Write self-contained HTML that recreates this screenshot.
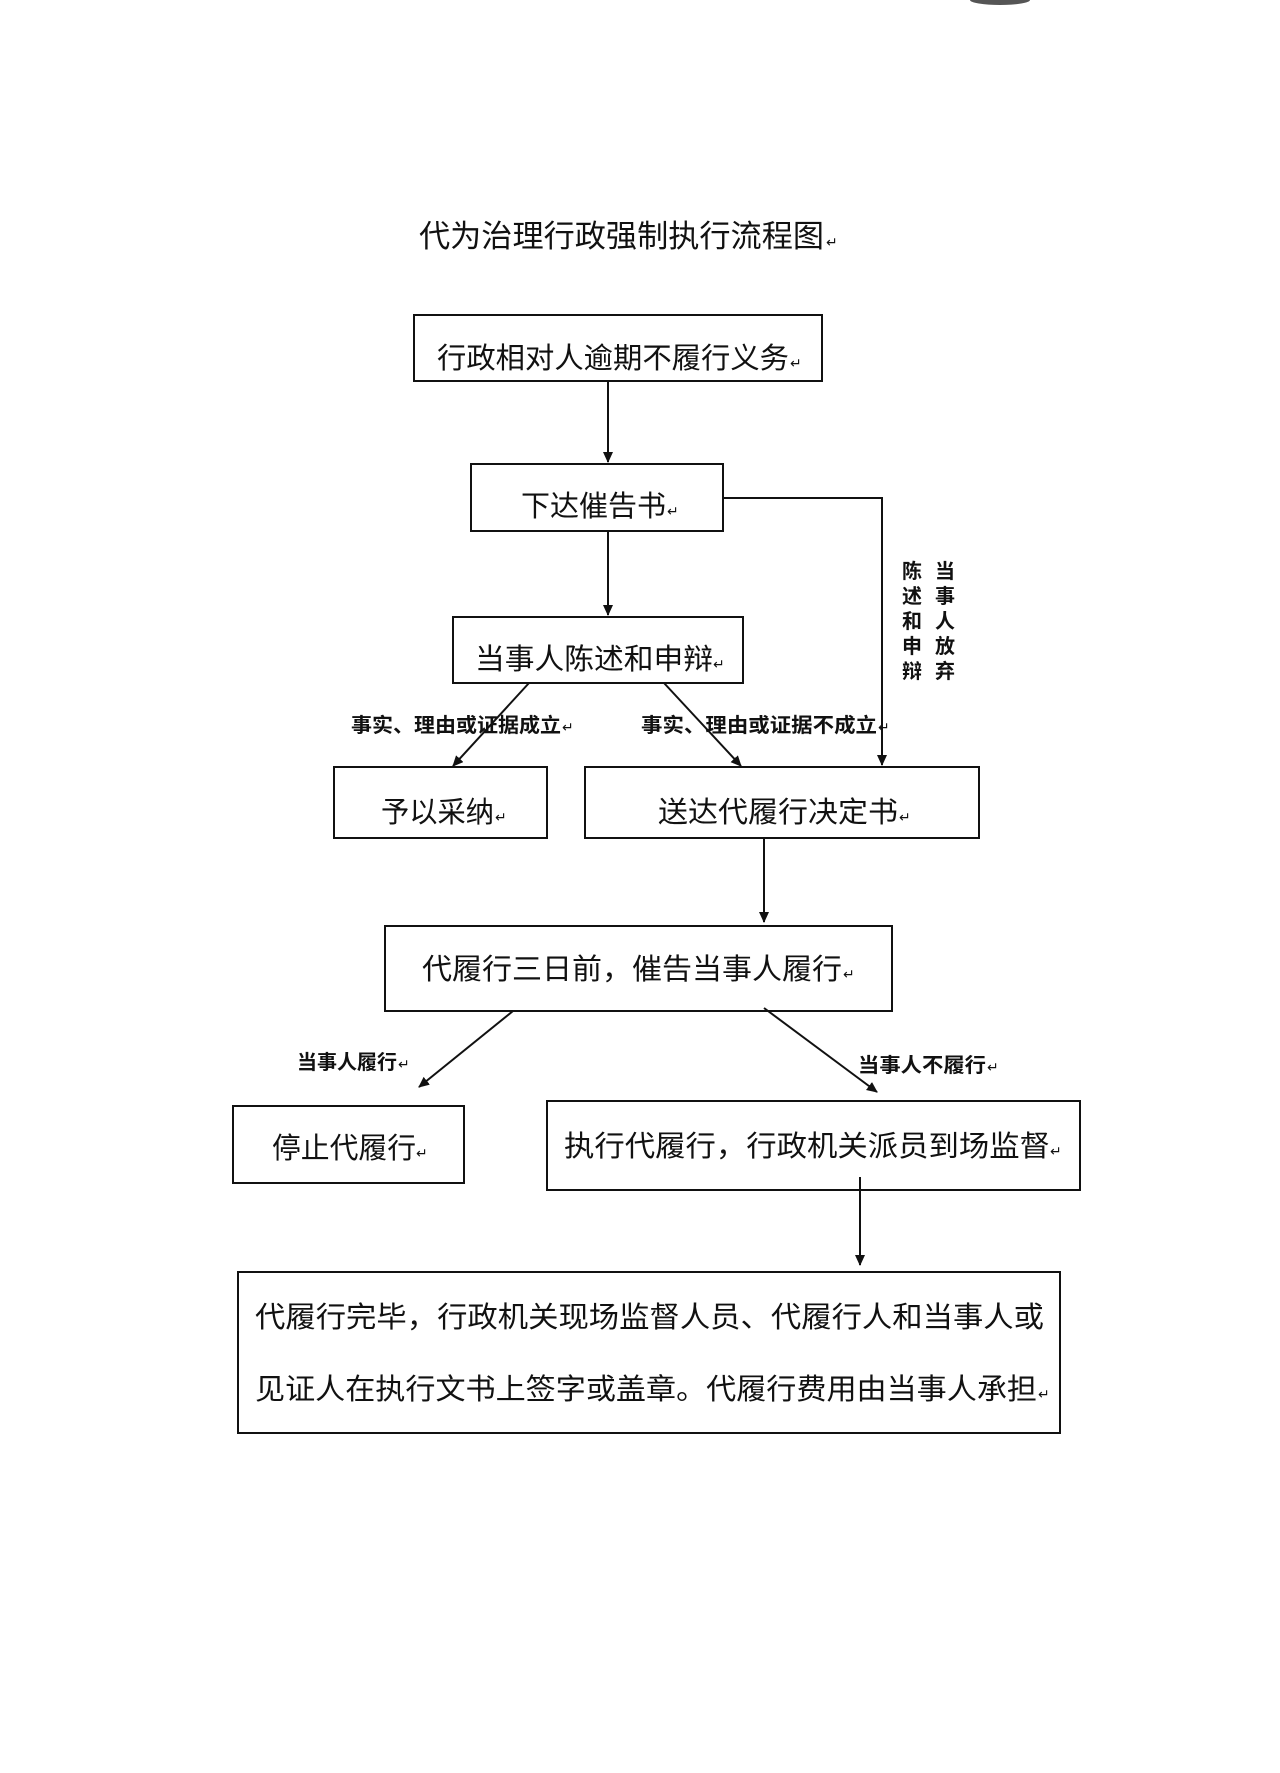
<!DOCTYPE html>
<html><head><meta charset="utf-8"><style>
html,body{margin:0;padding:0;background:#fff;}
svg{display:block;}
text{font-family:"Liberation Sans","Noto Sans CJK SC",sans-serif;fill:#111;}
.b{font-size:29px;}
.s{font-size:20px;font-weight:bold;}
.r{font-size:14px;}
</style></head><body>
<svg width="1280" height="1773" viewBox="0 0 1280 1773" xmlns="http://www.w3.org/2000/svg">
<defs><marker id="a" markerWidth="12" markerHeight="12" refX="10" refY="5" orient="auto" markerUnits="userSpaceOnUse"><path d="M0,0 L11,5 L0,10 Z" fill="#111"/></marker></defs>
<ellipse cx="1000" cy="0" rx="30" ry="5" fill="#555"/>
<g stroke="#111" stroke-width="2" fill="none">
<rect x="414" y="315" width="408" height="66"/>
<rect x="471" y="464" width="252" height="67"/>
<rect x="453" y="617" width="290" height="66"/>
<rect x="334" y="767" width="213" height="71"/>
<rect x="585" y="767" width="394" height="71"/>
<rect x="385" y="926" width="507" height="85"/>
<rect x="233" y="1106" width="231" height="77"/>
<rect x="547" y="1101" width="533" height="89"/>
<rect x="238" y="1272" width="822" height="161"/>
<line x1="608" y1="381" x2="608" y2="462" marker-end="url(#a)"/>
<line x1="608" y1="531" x2="608" y2="615" marker-end="url(#a)"/>
<polyline points="723,498 882,498 882,765" marker-end="url(#a)"/>
<line x1="529" y1="683" x2="453" y2="766" marker-end="url(#a)"/>
<line x1="664" y1="683" x2="741" y2="766" marker-end="url(#a)"/>
<line x1="764" y1="838" x2="764" y2="922" marker-end="url(#a)"/>
<line x1="513" y1="1011" x2="419" y2="1087" marker-end="url(#a)"/>
<line x1="764" y1="1008" x2="877" y2="1092" marker-end="url(#a)"/>
<line x1="860" y1="1177" x2="860" y2="1265" marker-end="url(#a)"/>
</g>
<text x="419" y="247" style="font-size:31px" textLength="405" lengthAdjust="spacingAndGlyphs">代为治理行政强制执行流程图</text><text class="r" x="826" y="247">↵</text>
<text class="b" x="437" y="368" textLength="352" lengthAdjust="spacingAndGlyphs">行政相对人逾期不履行义务</text><text class="r" x="790" y="368">↵</text>
<text class="b" x="521" y="516" textLength="145" lengthAdjust="spacingAndGlyphs">下达催告书</text><text class="r" x="667" y="516">↵</text>
<text class="b" x="475" y="669" textLength="238" lengthAdjust="spacingAndGlyphs">当事人陈述和申辩</text><text class="r" x="713" y="669">↵</text>
<text class="s" x="351" y="732" textLength="210" lengthAdjust="spacingAndGlyphs">事实、理由或证据成立</text><text class="r" x="562" y="732">↵</text>
<text class="s" x="641" y="732" textLength="236" lengthAdjust="spacingAndGlyphs">事实、理由或证据不成立</text><text class="r" x="878" y="732">↵</text>
<g class="s" text-anchor="middle">
<text x="945" y="578">当</text><text x="945" y="603">事</text><text x="945" y="628">人</text><text x="945" y="653">放</text><text x="945" y="678">弃</text>
<text x="912" y="578">陈</text><text x="912" y="603">述</text><text x="912" y="628">和</text><text x="912" y="653">申</text><text x="912" y="678">辩</text>
</g>
<text class="b" x="381" y="822" textLength="113" lengthAdjust="spacingAndGlyphs">予以采纳</text><text class="r" x="495" y="822">↵</text>
<text class="b" x="658" y="822" textLength="240" lengthAdjust="spacingAndGlyphs">送达代履行决定书</text><text class="r" x="899" y="822">↵</text>
<text class="b" x="422" y="979" textLength="420" lengthAdjust="spacingAndGlyphs">代履行三日前，催告当事人履行</text><text class="r" x="843" y="979">↵</text>
<text class="s" x="297" y="1069" textLength="100" lengthAdjust="spacingAndGlyphs">当事人履行</text><text class="r" x="398" y="1069">↵</text>
<text class="s" x="858" y="1072" textLength="128" lengthAdjust="spacingAndGlyphs">当事人不履行</text><text class="r" x="987" y="1072">↵</text>
<text class="b" x="272" y="1158" textLength="144" lengthAdjust="spacingAndGlyphs">停止代履行</text><text class="r" x="416" y="1158">↵</text>
<text class="b" x="564" y="1156" textLength="486" lengthAdjust="spacingAndGlyphs">执行代履行，行政机关派员到场监督</text><text class="r" x="1050" y="1156">↵</text>
<text class="b" x="255" y="1327" textLength="789" lengthAdjust="spacingAndGlyphs">代履行完毕，行政机关现场监督人员、代履行人和当事人或</text>
<text class="b" x="255" y="1399" textLength="782" lengthAdjust="spacingAndGlyphs">见证人在执行文书上签字或盖章。代履行费用由当事人承担</text><text class="r" x="1038" y="1399">↵</text>
</svg>
</body></html>
